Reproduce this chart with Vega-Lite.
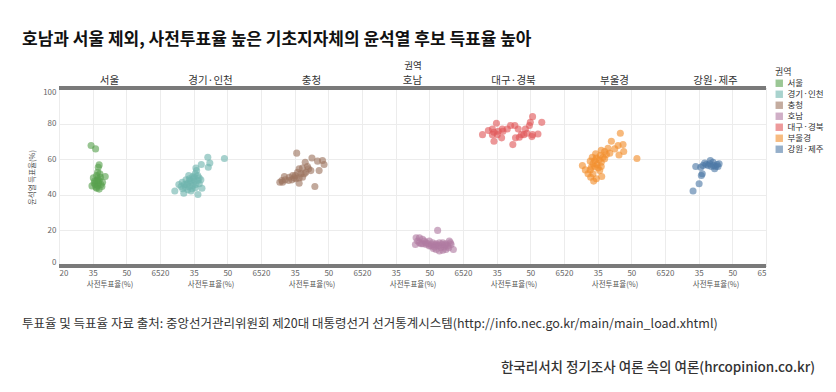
{
  "$schema": "https://vega.github.io/schema/vega-lite/v6.json",
  "background": "white",
  "padding": {"left": 22, "top": 30, "right": 0, "bottom": 0},
  "title": {"text": "호남과 서울 제외, 사전투표율 높은 기초지자체의 윤석열 후보 득표율 높아", "anchor": "start", "font": "Noto Sans CJK KR", "fontSize": 17, "fontWeight": "bold", "color": "#111111", "offset": 12},
  "config": {
    "font": "Noto Sans CJK KR",
    "view": {"stroke": "#9a9a9a", "strokeWidth": 1},
    "axis": {"grid": true, "gridColor": "#ececec", "domain": false, "ticks": false, "tickSize": 0, "tickCount": 10, "labelFontSize": 8, "labelColor": "#666666", "titleFontSize": 7.5, "titleColor": "#555555", "titleFontWeight": "normal", "labelFlush": true, "labelOverlap": false},
    "header": {"labelFontSize": 10.5, "labelColor": "#333333", "titleFontSize": 9.5, "titleFontWeight": "normal", "titleColor": "#333333", "labelPadding": 2, "titlePadding": -5},
    "legend": {"titleFontSize": 9, "titleFontWeight": "normal", "labelFontSize": 8.5, "symbolType": "square", "symbolSize": 55, "symbolOpacity": 0.6, "symbolStrokeWidth": 0, "rowPadding": 2, "labelColor": "#333333", "titleColor": "#333333", "titlePadding": 2}
  },
  "spacing": 29,
  "resolve": {"legend": {"color": "independent"}},
  "vconcat": [
    {
      "data": {"values": [
        {"r":"서울","x":34.3,"y":67.7},{"r":"서울","x":36.3,"y":65.8},{"r":"서울","x":37.9,"y":56.8},{"r":"서울","x":37.5,"y":55.5},{"r":"서울","x":37.2,"y":52.7},{"r":"서울","x":36.8,"y":50.8},{"r":"서울","x":38.5,"y":49.9},{"r":"서울","x":40.6,"y":50.3},{"r":"서울","x":35.3,"y":49.5},{"r":"서울","x":35.7,"y":46.5},{"r":"서울","x":37.9,"y":48.0},{"r":"서울","x":37.2,"y":45.2},{"r":"서울","x":34.7,"y":45.0},{"r":"서울","x":36.5,"y":44.3},{"r":"서울","x":39.1,"y":44.7},{"r":"서울","x":36.8,"y":43.7},{"r":"서울","x":35.9,"y":47.7},{"r":"서울","x":38.2,"y":51.8},{"r":"서울","x":37.4,"y":49.0},{"r":"서울","x":39.4,"y":47.1},{"r":"서울","x":36.2,"y":45.8},{"r":"서울","x":37.6,"y":46.5},{"r":"서울","x":38.7,"y":45.8},{"r":"서울","x":36.9,"y":48.0},{"r":"서울","x":37.9,"y":43.2},
        {"r":"경기·인천","x":41.3,"y":61.1},{"r":"경기·인천","x":48.7,"y":60.4},{"r":"경기·인천","x":42.2,"y":57.9},{"r":"경기·인천","x":41.5,"y":55.5},{"r":"경기·인천","x":38.4,"y":57.0},{"r":"경기·인천","x":36.0,"y":55.1},{"r":"경기·인천","x":36.3,"y":53.6},{"r":"경기·인천","x":35.7,"y":51.8},{"r":"경기·인천","x":34.6,"y":50.3},{"r":"경기·인천","x":33.1,"y":49.0},{"r":"경기·인천","x":31.6,"y":48.4},{"r":"경기·인천","x":38.2,"y":48.4},{"r":"경기·인천","x":37.4,"y":49.5},{"r":"경기·인천","x":29.9,"y":47.1},{"r":"경기·인천","x":30.9,"y":45.8},{"r":"경기·인천","x":32.4,"y":46.5},{"r":"경기·인천","x":33.8,"y":47.1},{"r":"경기·인천","x":35.3,"y":47.7},{"r":"경기·인천","x":36.8,"y":48.0},{"r":"경기·인천","x":29.4,"y":44.7},{"r":"경기·인천","x":31.3,"y":44.3},{"r":"경기·인천","x":33.1,"y":44.7},{"r":"경기·인천","x":34.6,"y":45.2},{"r":"경기·인천","x":36.0,"y":45.8},{"r":"경기·인천","x":38.7,"y":43.7},{"r":"경기·인천","x":26.6,"y":42.1},{"r":"경기·인천","x":30.6,"y":40.9},{"r":"경기·인천","x":36.9,"y":40.2},{"r":"경기·인천","x":32.4,"y":42.8},{"r":"경기·인천","x":34.3,"y":43.4},{"r":"경기·인천","x":35.7,"y":43.9},{"r":"경기·인천","x":30.1,"y":43.4},{"r":"경기·인천","x":33.4,"y":48.0},{"r":"경기·인천","x":34.9,"y":49.0},{"r":"경기·인천","x":31.9,"y":45.8},{"r":"경기·인천","x":37.5,"y":46.2},{"r":"경기·인천","x":28.4,"y":45.8},{"r":"경기·인천","x":33.8,"y":42.1},{"r":"경기·인천","x":32.8,"y":50.8},{"r":"경기·인천","x":35.3,"y":49.9},{"r":"경기·인천","x":36.8,"y":50.8},
        {"r":"충청","x":35.9,"y":63.4},{"r":"충청","x":42.7,"y":60.7},{"r":"충청","x":39.7,"y":58.3},{"r":"충청","x":45.2,"y":58.9},{"r":"충청","x":47.4,"y":59.3},{"r":"충청","x":48.1,"y":57.0},{"r":"충청","x":45.9,"y":53.6},{"r":"충청","x":42.2,"y":53.6},{"r":"충청","x":40.7,"y":55.9},{"r":"충청","x":38.5,"y":55.1},{"r":"충청","x":37.0,"y":54.6},{"r":"충청","x":36.3,"y":52.7},{"r":"충청","x":35.3,"y":50.8},{"r":"충청","x":34.1,"y":50.8},{"r":"충청","x":37.8,"y":51.8},{"r":"충청","x":39.3,"y":51.8},{"r":"충청","x":30.4,"y":50.3},{"r":"충청","x":32.6,"y":49.9},{"r":"충청","x":34.8,"y":49.5},{"r":"충청","x":37.0,"y":49.5},{"r":"충청","x":38.5,"y":49.9},{"r":"충청","x":29.3,"y":48.0},{"r":"충청","x":30.8,"y":48.4},{"r":"충청","x":28.4,"y":47.1},{"r":"충청","x":29.6,"y":47.1},{"r":"충청","x":32.3,"y":48.0},{"r":"충청","x":37.0,"y":46.5},{"r":"충청","x":44.0,"y":44.7},{"r":"충청","x":35.6,"y":49.0},{"r":"충청","x":33.8,"y":48.4},{"r":"충청","x":40.0,"y":52.7},{"r":"충청","x":41.2,"y":54.6},
        {"r":"호남","x":53.7,"y":20.0},{"r":"호남","x":44.1,"y":15.9},{"r":"호남","x":45.6,"y":15.9},{"r":"호남","x":47.0,"y":15.0},{"r":"호남","x":44.8,"y":14.0},{"r":"호남","x":43.8,"y":12.1},{"r":"호남","x":46.3,"y":12.5},{"r":"호남","x":48.5,"y":13.1},{"r":"호남","x":50.0,"y":14.0},{"r":"호남","x":51.5,"y":13.1},{"r":"호남","x":53.0,"y":12.5},{"r":"호남","x":54.5,"y":13.1},{"r":"호남","x":56.0,"y":13.1},{"r":"호남","x":57.4,"y":12.5},{"r":"호남","x":58.9,"y":14.0},{"r":"호남","x":59.7,"y":12.1},{"r":"호남","x":50.8,"y":11.2},{"r":"호남","x":52.2,"y":10.7},{"r":"호남","x":53.7,"y":11.2},{"r":"호남","x":55.2,"y":10.3},{"r":"호남","x":56.7,"y":10.7},{"r":"호남","x":58.2,"y":11.2},{"r":"호남","x":60.7,"y":9.3},{"r":"호남","x":54.5,"y":8.4},{"r":"호남","x":56.0,"y":8.8},{"r":"호남","x":53.0,"y":9.3},{"r":"호남","x":57.4,"y":9.3},{"r":"호남","x":50.0,"y":11.2},{"r":"호남","x":48.5,"y":12.1},{"r":"호남","x":47.0,"y":12.5},{"r":"호남","x":45.6,"y":13.1},{"r":"호남","x":47.8,"y":14.0},{"r":"호남","x":49.3,"y":12.5},{"r":"호남","x":51.2,"y":12.1},{"r":"호남","x":52.7,"y":11.8},{"r":"호남","x":54.2,"y":11.8},{"r":"호남","x":55.7,"y":12.1},{"r":"호남","x":57.1,"y":11.8},{"r":"호남","x":58.6,"y":10.3},{"r":"호남","x":59.4,"y":13.1},{"r":"호남","x":51.8,"y":9.9},
        {"r":"대구·경북","x":51.0,"y":83.9},{"r":"대구·경북","x":55.1,"y":80.7},{"r":"대구·경북","x":50.0,"y":80.7},{"r":"대구·경북","x":49.6,"y":78.9},{"r":"대구·경북","x":47.8,"y":77.0},{"r":"대구·경북","x":34.9,"y":80.2},{"r":"대구·경북","x":41.2,"y":78.9},{"r":"대구·경북","x":43.1,"y":78.9},{"r":"대구·경북","x":39.7,"y":77.0},{"r":"대구·경북","x":37.5,"y":77.0},{"r":"대구·경북","x":33.1,"y":77.0},{"r":"대구·경북","x":31.3,"y":76.1},{"r":"대구·경북","x":28.7,"y":73.8},{"r":"대구·경북","x":33.8,"y":75.1},{"r":"대구·경북","x":35.7,"y":75.7},{"r":"대구·경북","x":37.8,"y":75.7},{"r":"대구·경북","x":33.1,"y":73.8},{"r":"대구·경북","x":35.3,"y":73.8},{"r":"대구·경북","x":37.2,"y":72.0},{"r":"대구·경북","x":33.8,"y":70.1},{"r":"대구·경북","x":42.2,"y":68.2},{"r":"대구·경북","x":43.4,"y":72.0},{"r":"대구·경북","x":45.1,"y":72.3},{"r":"대구·경북","x":47.1,"y":73.8},{"r":"대구·경북","x":48.5,"y":74.6},{"r":"대구·경북","x":51.0,"y":73.8},{"r":"대구·경북","x":53.4,"y":74.2},{"r":"대구·경북","x":50.7,"y":72.7},{"r":"대구·경북","x":46.0,"y":73.8},{"r":"대구·경북","x":44.6,"y":77.0},
        {"r":"부울경","x":45.1,"y":74.6},{"r":"부울경","x":41.1,"y":70.1},{"r":"부울경","x":46.3,"y":68.2},{"r":"부울경","x":44.1,"y":67.7},{"r":"부울경","x":46.6,"y":64.3},{"r":"부울경","x":44.5,"y":62.4},{"r":"부울경","x":52.5,"y":60.4},{"r":"부울경","x":39.6,"y":66.2},{"r":"부울경","x":38.1,"y":64.3},{"r":"부울경","x":36.6,"y":65.0},{"r":"부울경","x":34.1,"y":63.0},{"r":"부울경","x":40.4,"y":63.4},{"r":"부울경","x":36.2,"y":62.1},{"r":"부울경","x":34.4,"y":60.7},{"r":"부울경","x":37.4,"y":61.1},{"r":"부울경","x":38.9,"y":62.6},{"r":"부울경","x":35.6,"y":59.6},{"r":"부울경","x":33.7,"y":59.3},{"r":"부울경","x":31.7,"y":58.9},{"r":"부울경","x":32.9,"y":57.4},{"r":"부울경","x":34.7,"y":57.0},{"r":"부울경","x":36.6,"y":58.3},{"r":"부울경","x":28.2,"y":56.4},{"r":"부울경","x":29.5,"y":54.0},{"r":"부울경","x":31.7,"y":54.0},{"r":"부울경","x":33.7,"y":55.9},{"r":"부울경","x":35.2,"y":55.1},{"r":"부울경","x":32.2,"y":55.5},{"r":"부울경","x":36.6,"y":55.9},{"r":"부울경","x":31.9,"y":49.9},{"r":"부울경","x":33.2,"y":47.7},{"r":"부울경","x":36.8,"y":50.3},{"r":"부울경","x":34.4,"y":49.0},{"r":"부울경","x":32.9,"y":51.8},{"r":"부울경","x":30.7,"y":51.8},{"r":"부울경","x":35.9,"y":53.6},{"r":"부울경","x":38.1,"y":60.2},{"r":"부울경","x":32.6,"y":61.1},{"r":"부울경","x":42.6,"y":65.8},
        {"r":"강원·제주","x":33.7,"y":55.9},{"r":"강원·제주","x":36.9,"y":56.4},{"r":"강원·제주","x":37.7,"y":57.8},{"r":"강원·제주","x":40.2,"y":59.3},{"r":"강원·제주","x":41.4,"y":58.3},{"r":"강원·제주","x":39.2,"y":56.4},{"r":"강원·제주","x":40.7,"y":55.9},{"r":"강원·제주","x":42.6,"y":55.9},{"r":"강원·제주","x":44.1,"y":57.4},{"r":"강원·제주","x":43.2,"y":57.0},{"r":"강원·제주","x":42.1,"y":54.6},{"r":"강원·제주","x":35.9,"y":55.5},{"r":"강원·제주","x":36.6,"y":51.8},{"r":"강원·제주","x":36.2,"y":50.8},{"r":"강원·제주","x":35.2,"y":46.2},{"r":"강원·제주","x":32.5,"y":42.1},{"r":"강원·제주","x":38.4,"y":57.0},{"r":"강원·제주","x":41.7,"y":56.4},{"r":"강원·제주","x":43.6,"y":55.9},{"r":"강원·제주","x":39.9,"y":57.4}
      ]},
      "facet": {"column": {"field": "r", "type": "nominal", "title": "권역", "sort": ["서울","경기·인천","충청","호남","대구·경북","부울경","강원·제주"], "header": {"labelOrient": "top", "titleOrient": "top", "labelPadding": 2, "titlePadding": -5}}},
      "spacing": 0,
      "bounds": "flush",
      "spec": {
        "width": 101,
        "height": 178,
        "layer": [
          {
            "mark": {"type": "circle", "size": 50, "opacity": 0.62},
            "encoding": {
              "x": {"field": "x", "type": "quantitative", "scale": {"domain": [20, 65], "nice": false}, "axis": {"title": "사전투표율(%)", "values": [20, 35, 50, 65], "tickCount": 10, "labelPadding": 3, "titlePadding": 3}},
              "y": {"field": "y", "type": "quantitative", "scale": {"domain": [0, 100], "nice": false}, "axis": {"title": "윤석열 득표율(%)", "values": [0, 20, 40, 60, 80, 100], "tickCount": 10, "labelPadding": 3, "titlePadding": 6}},
              "color": {"field": "r", "type": "nominal", "title": "권역", "scale": {"domain": ["서울","경기·인천","충청","호남","대구·경북","부울경","강원·제주"], "range": ["#59a14f","#6fb5ae","#9c755f","#b07aa1","#e15759","#f28e2b","#4e79a7"]}, "legend": {"orient": "none", "legendX": 716, "legendY": -20}}
            }
          },
          {"mark": {"type": "rule", "color": "#7a7a7a", "strokeWidth": 3}, "encoding": {"y": {"datum": 100}}},
          {"mark": {"type": "rule", "color": "#7a7a7a", "strokeWidth": 3}, "encoding": {"y": {"datum": 0}}}
        ]
      }
    },
    {
      "data": {"values": []},
      "mark": "point",
      "width": 756,
      "height": 1,
      "view": {"stroke": null},
      "title": {"text": "투표율 및 득표율 자료 출처: 중앙선거관리위원회 제20대 대통령선거 선거통계시스템(http://info.nec.go.kr/main/main_load.xhtml)", "anchor": "start", "fontSize": 12.5, "fontWeight": "normal", "color": "#333333", "offset": 0, "dx": -37}
    },
    {
      "data": {"values": []},
      "mark": "point",
      "width": 756,
      "height": 1,
      "view": {"stroke": null},
      "title": {"text": "한국리서치 정기조사 여론 속의 여론(hrcopinion.co.kr)", "anchor": "end", "fontSize": 13.5, "fontWeight": 500, "color": "#333333", "offset": 0}
    }
  ]
}
